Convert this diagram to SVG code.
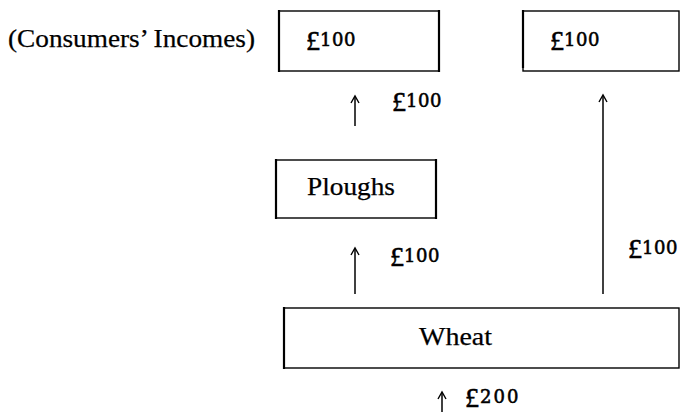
<svg xmlns="http://www.w3.org/2000/svg" width="685" height="412" viewBox="0 0 685 412">
<style>
.box{fill:none;stroke:#000;stroke-width:1.4}
.side{stroke:#000;stroke-width:2.2}
.t{font-family:"Liberation Serif","Times New Roman",serif;fill:#000;stroke:#000;stroke-width:0.25}
.v{stroke-width:0.55}
.name{font-size:26px}
.lb{font-size:28px}
.dg{font-family:"DejaVu Serif",serif;font-size:18px;letter-spacing:0.5px}
.ln{stroke:#000;stroke-width:1.5;fill:none}
.hd{stroke:#000;stroke-width:1.4;fill:none}
</style>
<rect width="685" height="412" fill="#fff"/>
<text class="t name" x="8" y="47" textLength="247" lengthAdjust="spacingAndGlyphs">(Consumers’ Incomes)</text>
<g id="income1">
<rect class="box" x="279" y="11" width="160" height="60"/>
<line class="side" x1="279" y1="10" x2="279" y2="72"/>
<line class="side" x1="439" y1="10" x2="439" y2="72"/>
<text class="t v" x="306" y="46"><tspan class="lb" dy="4">£</tspan><tspan class="dg" dx="0" dy="-4">100</tspan></text>
</g>
<g id="income2">
<rect class="box" x="523" y="11" width="156" height="60"/>
<line class="side" x1="523" y1="10" x2="523" y2="68"/>
<text class="t v" x="550" y="46"><tspan class="lb" dy="4">£</tspan><tspan class="dg" dx="0" dy="-4">100</tspan></text>
</g>
<g id="ploughs">
<rect class="box" x="276" y="160" width="160" height="58"/>
<line class="side" x1="276" y1="159" x2="276" y2="219"/>
<line class="side" x1="436" y1="159" x2="436" y2="219"/>
<text class="t name" x="307" y="195" textLength="88" lengthAdjust="spacingAndGlyphs">Ploughs</text>
</g>
<g id="wheat">
<rect class="box" x="284" y="308" width="395" height="60"/>
<line class="side" x1="284" y1="307" x2="284" y2="369"/>
<text class="t name" x="419" y="345" textLength="73" lengthAdjust="spacingAndGlyphs">Wheat</text>
</g>
<g id="connectors">
<line class="ln" x1="355" y1="97" x2="355" y2="126"/>
<path class="hd" d="M351,103 L355,96 L359,103"/>
<line class="ln" x1="355" y1="249" x2="355" y2="294"/>
<path class="hd" d="M351,255 L355,248 L359,255"/>
<line class="ln" x1="603" y1="96" x2="603" y2="294"/>
<path class="hd" d="M599,102 L603,95 L607,102"/>
<line class="ln" x1="442" y1="393" x2="442" y2="412"/>
<path class="hd" d="M438,399 L442,392 L446,399"/>
<text class="t v" x="392" y="107"><tspan class="lb" dy="4">£</tspan><tspan class="dg" dy="-4">100</tspan></text>
<text class="t v" x="390" y="262"><tspan class="lb" dy="4">£</tspan><tspan class="dg" dy="-4">100</tspan></text>
<text class="t v" x="628" y="254"><tspan class="lb" dy="4">£</tspan><tspan class="dg" dy="-4">100</tspan></text>
<text class="t v" x="465" y="403"><tspan class="lb" dy="4">£</tspan><tspan class="dg" dx="1" dy="-4" style="letter-spacing:2px">200</tspan></text>
</g>
</svg>
